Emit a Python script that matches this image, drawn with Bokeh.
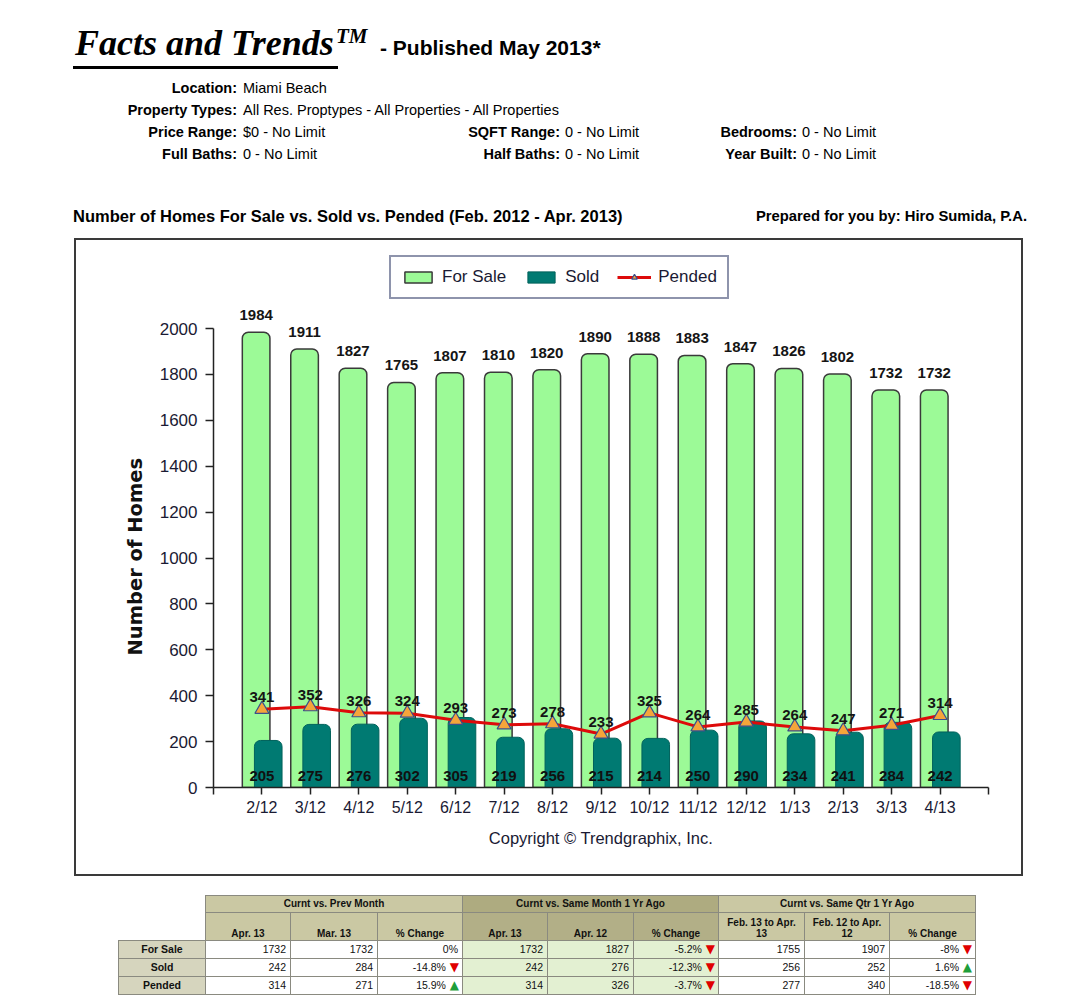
from bokeh.plotting import figure
from bokeh.models import (ColumnDataSource, FixedTicker, Legend, LegendItem, Div, Spacer, Range1d, Title)
from bokeh.layouts import column, row
from bokeh.transform import dodge
from bokeh.embed import file_html
from bokeh.resources import INLINE
from bokeh.core.properties import value

# ---------------- data ----------------
months = ["2/12", "3/12", "4/12", "5/12", "6/12", "7/12", "8/12", "9/12",
          "10/12", "11/12", "12/12", "1/13", "2/13", "3/13", "4/13"]
for_sale = [1984, 1911, 1827, 1765, 1807, 1810, 1820, 1890, 1888, 1883, 1847, 1826, 1802, 1732, 1732]
sold = [205, 275, 276, 302, 305, 219, 256, 215, 214, 250, 290, 234, 241, 284, 242]
pended = [341, 352, 326, 324, 293, 273, 278, 233, 325, 264, 285, 264, 247, 271, 314]
y_ticks = [0, 200, 400, 600, 800, 1000, 1200, 1400, 1600, 1800, 2000]

filters = [
    [("Location:", "Miami Beach")],
    [("Property Types:", "All Res. Proptypes - All Properties - All Properties")],
    [("Price Range:", "$0 - No Limit"), ("SQFT Range:", "0 - No Limit"), ("Bedrooms:", "0 - No Limit")],
    [("Full Baths:", "0 - No Limit"), ("Half Baths:", "0 - No Limit"), ("Year Built:", "0 - No Limit")],
]

tbl_groups = ["Curnt vs. Prev Month", "Curnt vs. Same Month 1 Yr Ago", "Curnt vs. Same Qtr 1 Yr Ago"]
tbl_sub = ["Apr. 13", "Mar. 13", "% Change", "Apr. 13", "Apr. 12", "% Change",
           "Feb. 13 to Apr. 13", "Feb. 12 to Apr. 12", "% Change"]
tbl_rows = ["For Sale", "Sold", "Pended"]
tbl_vals = [
    ["1732", "1732", "0%", "1732", "1827", "-5.2%", "1755", "1907", "-8%"],
    ["242", "284", "-14.8%", "242", "276", "-12.3%", "256", "252", "1.6%"],
    ["314", "271", "15.9%", "314", "326", "-3.7%", "277", "340", "-18.5%"],
]
tbl_arrows = [
    ["", "", "", "", "", "down", "", "", "down"],
    ["", "", "down", "", "", "down", "", "", "up"],
    ["", "", "up", "", "", "down", "", "", "down"],
]

# ---------------- header ----------------
SANS = "'Liberation Sans', Arial, sans-serif"
SERIF = "'Liberation Serif', 'Times New Roman', serif"
parts = []
parts.append(f'<div style="position:relative;width:1064px;height:240px;font-family:{SANS};color:#000;">')
parts.append(f'<div style="position:absolute;left:75px;top:25px;font-family:{SERIF};'
             'font-style:italic;font-weight:bold;font-size:36px;line-height:36px;white-space:nowrap;">Facts and Trends</div>')
parts.append(f'<div style="position:absolute;left:336px;top:26px;font-family:{SERIF};'
             'font-style:italic;font-weight:bold;font-size:21px;line-height:21px;">TM</div>')
parts.append('<div style="position:absolute;left:73px;top:66px;width:265px;height:3px;background:#000;"></div>')
parts.append('<div style="position:absolute;left:380px;top:37px;font-weight:bold;font-size:21px;line-height:21px;'
             'white-space:nowrap;">- Published May 2013*</div>')
label_right = [237, 560, 797]
value_left = [243, 565, 802]
for r, items in enumerate(filters):
    top = 81 + r * 22
    for c, (lab, val) in enumerate(items):
        parts.append(f'<div style="position:absolute;left:0px;width:{label_right[c]}px;top:{top}px;text-align:right;'
                     f'font-weight:bold;font-size:14.5px;line-height:14.5px;white-space:nowrap;">{lab}</div>')
        parts.append(f'<div style="position:absolute;left:{value_left[c]}px;top:{top}px;'
                     f'font-size:14.5px;line-height:14.5px;white-space:nowrap;">{val}</div>')
parts.append('<div style="position:absolute;left:73px;top:208px;font-weight:bold;font-size:16.5px;line-height:16.5px;'
             'white-space:nowrap;">Number of Homes For Sale vs. Sold vs. Pended (Feb. 2012 - Apr. 2013)</div>')
parts.append('<div style="position:absolute;right:37px;top:209px;font-weight:bold;font-size:14.8px;line-height:14.8px;'
             'white-space:nowrap;">Prepared for you by: Hiro Sumida, P.A.</div>')
parts.append('</div>')
header = Div(text="".join(parts), width=1064, height=240, margin=0)

# ---------------- chart ----------------
src = ColumnDataSource(dict(
    x=list(range(len(months))),
    month=months,
    for_sale=for_sale,
    sold=sold,
    pended=pended,
    fs_lbl=[str(v) for v in for_sale],
    sd_lbl=[str(v) for v in sold],
    pd_lbl=[str(v) for v in pended],
    zero=[0] * len(months),
))

p = figure(frame_width=775, frame_height=537,
           x_range=Range1d(-1, len(months)), y_range=Range1d(0, 2340),
           output_backend="svg", toolbar_location=None,
           min_border_left=137, min_border_right=33, min_border_top=10, min_border_bottom=87,
           background_fill_color="white", border_fill_color="white")
p.outline_line_color = None
p.grid.visible = False

r_fs = p.vbar(x=dodge("x", -0.12, range=p.x_range), top="for_sale", bottom=0, width=0.57, source=src,
              fill_color="#9cfa97", line_color="#3a3a3a", line_width=1.5, border_radius=(6, 6, 0, 0))
r_sd = p.vbar(x=dodge("x", 0.13, range=p.x_range), top="sold", bottom=0, width=0.57, source=src,
              fill_color="#007a72", line_color="#00625b", line_width=1, border_radius=(6, 6, 0, 0))
r_ln = p.line(x="x", y="pended", source=src, line_color="#dd0a0a", line_width=3)
r_tr = p.scatter(x="x", y="pended", source=src, marker="triangle", size=14,
                 fill_color="#f5a53a", line_color="#3b4f8c", line_width=1.2)

lbl_font = value("Liberation Sans")
p.text(x=dodge("x", -0.12, range=p.x_range), y="for_sale", text="fs_lbl", source=src,
       text_align="center", text_baseline="alphabetic", y_offset=-17,
       text_font=lbl_font, text_font_style="bold", text_font_size="15px", text_color="#151515")
p.text(x="x", y="zero", text="sd_lbl", source=src,
       text_align="center", text_baseline="alphabetic", y_offset=-12,
       text_font=lbl_font, text_font_style="bold", text_font_size="15px", text_color="#101010")
p.text(x="x", y="pended", text="pd_lbl", source=src,
       text_align="center", text_baseline="alphabetic", y_offset=-12,
       text_font=lbl_font, text_font_style="bold", text_font_size="15px", text_color="#151515")

# axes
xa = p.xaxis[0]
xa.ticker = FixedTicker(ticks=list(range(-1, len(months) + 1)))
ov = {i: m for i, m in enumerate(months)}
ov[-1] = ""
ov[len(months)] = ""
xa.major_label_overrides = ov
xa.minor_tick_line_color = None
xa.major_tick_out = 7
xa.major_tick_in = 0
xa.major_label_standoff = 4
xa.major_label_text_font = "Liberation Sans"
xa.major_label_text_font_size = "16px"
xa.major_label_text_color = "#1a1a33"
xa.axis_line_color = "#222222"
xa.axis_line_width = 1.5
xa.major_tick_line_color = "#222222"
xa.major_tick_line_width = 1.5
xa.axis_label = "Copyright \u00a9 Trendgraphix, Inc."
xa.axis_label_text_font = "Liberation Sans"
xa.axis_label_text_font_size = "16.5px"
xa.axis_label_text_font_style = "normal"
xa.axis_label_text_color = "#1a1a33"
xa.axis_label_standoff = 10

ya = p.yaxis[0]
ya.ticker = FixedTicker(ticks=y_ticks)
ya.bounds = (0, 2000)
ya.minor_tick_line_color = None
ya.major_tick_out = 8
ya.major_tick_in = 0
ya.major_label_standoff = 8
ya.major_label_text_font = "Liberation Sans"
ya.major_label_text_font_size = "17px"
ya.major_label_text_color = "#1a1a33"
ya.axis_line_color = "#222222"
ya.axis_line_width = 1.5
ya.major_tick_line_color = "#222222"
ya.major_tick_line_width = 1.5

ytitle = Title(text="Number of Homes", align="left", offset=132, standoff=20,
               text_font="DejaVu Sans", text_font_size="19.5px", text_font_style="bold",
               text_color="#111111")
p.add_layout(ytitle, "left")

legend = Legend(items=[
    LegendItem(label="For Sale", renderers=[r_fs]),
    LegendItem(label="Sold", renderers=[r_sd]),
    LegendItem(label="Pended", renderers=[r_ln, r_tr]),
], orientation="horizontal", location=(176, 488))
legend.label_text_font = "Liberation Sans"
legend.label_text_font_size = "17px"
legend.label_text_color = "#1a1a33"
legend.glyph_width = 34
legend.glyph_height = 14
legend.label_height = 20
legend.label_standoff = 7
legend.spacing = 18
legend.padding = 10
legend.margin = 0
legend.border_line_color = "#1e2a5a"
legend.border_line_width = 2
legend.background_fill_color = "white"
p.add_layout(legend, "center")

p.styles = {"box-shadow": "0 0 0 2px #3a3a3a"}

# ---------------- table ----------------
col_w = [87, 85, 87, 85, 85, 86, 85, 86, 85, 86]
row_h = [17, 28, 18, 18, 17]
hdr_bg = ["#cac8a3", "#aeab80", "#cac8a3"]
sub_bg = ["#cac8a3", "#b2af87", "#cac8a3"]
cell_bg = ["#ffffff", "#e3f0d2", "#ffffff"]
lab_bg = "#d6d5be"
bd = "1px solid #8a8a80"
t = []
t.append(f'<table style="border-collapse:collapse;table-layout:fixed;width:857px;font-family:{SANS};'
         f'font-size:10.5px;color:#111;">')
t.append('<colgroup>' + "".join(f'<col style="width:{w}px">' for w in col_w) + '</colgroup>')
t.append(f'<tr style="height:{row_h[0]}px;"><td style="border:none;"></td>')
for g, name in enumerate(tbl_groups):
    t.append(f'<td colspan="3" style="border:{bd};background:{hdr_bg[g]};text-align:center;font-weight:bold;'
             f'font-size:10px;padding:0;">{name}</td>')
t.append('</tr>')
t.append(f'<tr style="height:{row_h[1]}px;"><td style="border:none;"></td>')
for j, s in enumerate(tbl_sub):
    t.append(f'<td style="border:{bd};background:{sub_bg[j // 3]};text-align:center;vertical-align:bottom;'
             f'font-weight:bold;font-size:10px;line-height:11px;padding:0 2px 1px 2px;">{s}</td>')
t.append('</tr>')
for i, rl in enumerate(tbl_rows):
    t.append(f'<tr style="height:{row_h[2 + i]}px;">')
    t.append(f'<td style="border:{bd};background:{lab_bg};text-align:center;font-weight:bold;font-size:10.5px;'
             f'padding:0;">{rl}</td>')
    for j, v in enumerate(tbl_vals[i]):
        arrow = ""
        if tbl_arrows[i][j] == "down":
            arrow = '<span style="color:#e00000;font-family:\'DejaVu Sans\';font-size:12px;"> \u25bc</span>'
        elif tbl_arrows[i][j] == "up":
            arrow = '<span style="color:#1e9e3a;font-family:\'DejaVu Sans\';font-size:12px;"> \u25b2</span>'
        pad = "3px" if arrow else "4px"
        t.append(f'<td style="border:{bd};background:{cell_bg[j // 3]};text-align:right;padding:0 {pad} 0 0;'
                 f'white-space:nowrap;">{v}{arrow}</td>')
    t.append('</tr>')
t.append('</table>')
table = Div(text="".join(t), width=860, height=98, margin=0)

layout = column(
    header,
    row(Spacer(width=76, height=634), p),
    Spacer(width=10, height=21),
    row(Spacer(width=118, height=98), table),
)

open("out.html", "w").write(file_html(layout, INLINE))
